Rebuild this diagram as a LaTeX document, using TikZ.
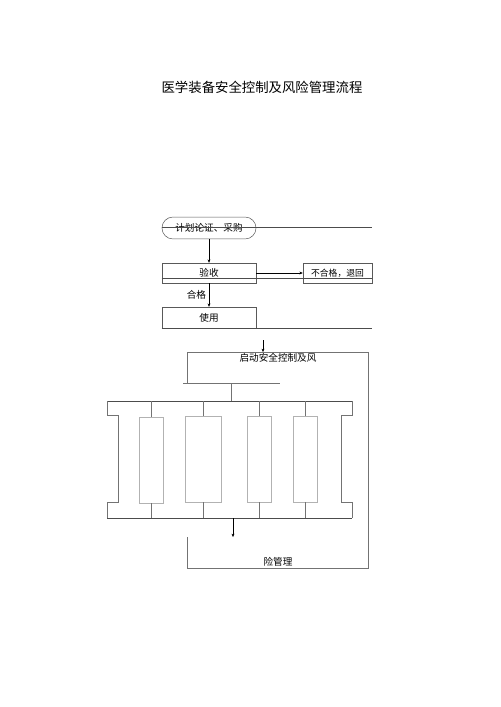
\documentclass[tikz,border=0pt]{standalone}
\usepackage{fontspec}
\setmainfont{Noto Sans CJK SC}
\usetikzlibrary{arrows.meta}

\begin{document}
\begin{tikzpicture}[x=0.042cm,y=-0.042cm,
  box/.style={rectangle,draw=black!65,line width=0.6pt,inner sep=0pt,minimum width=3.95cm,minimum height=0.84cm,font=\fontsize{11.5pt}{13pt}\selectfont},
  col/.style={rectangle,draw=black!30,line width=0.6pt,inner sep=0pt,minimum width=1.01cm,minimum height=3.61cm},
  bar/.style={draw=black!70,line width=0.9pt},
  thin/.style={draw=black!55,line width=0.7pt},
  txt/.style={font=\fontsize{11.5pt}{13pt}\selectfont},
  >={Stealth[length=4pt,width=3.5pt]}]
\useasboundingbox (0,0) rectangle (500,707);

\path (262,87) node[font=\fontsize{16pt}{19pt}\selectfont] (title) {医学装备安全控制及风险管理流程};

% first part
\path (209,228) node[box,rounded corners=0.46cm,minimum height=0.92cm] (plan) {计划论证、采购};
\path (209,273) node[box] (accept) {验收};
\path (337.5,273) node[box,minimum width=2.9cm,font=\fontsize{10.5pt}{12pt}\selectfont] (reject) {不合格，退回};
\path (209,317.5) node[box,minimum height=0.88cm] (use) {使用};

\coordinate (rend1) at (372,227);
\coordinate (rend2) at (372,278);
\coordinate (rend3) at (372,328);
\draw[bar] (plan.west |- rend1) -- (rend1);
\draw[bar] (accept.west |- rend2) -- (rend2);
\draw[bar] (use.west |- rend3) -- (rend3);

\draw[->] (plan) -- (accept);
\draw[->] (accept) -- (reject);
\draw[->] (accept) -- node[left,txt]{合格} (use);

% second part
\coordinate (in) at (263,340);
\coordinate (ftop) at (263,352);
\draw[->] (in) -- (ftop);
\draw[thin] (187,383) -- (187,352) -- (368,352) -- (368,568) -- (187,568) -- (187,537);
\path (278,358) node[txt] (risk1) {启动安全控制及风};
\path (278,562) node[txt] (risk2) {险管理};

\coordinate (fl) at (183,383);
\coordinate (fr) at (280,383);
\draw[thin] (fl) -- (fr);
\coordinate (tbus) at (231,401);
\coordinate (bbus) at (233,518);
\draw[thin] (231,383) -- (tbus);
\draw[bar] (107,401) -- (352,401);
\draw[bar] (107,518) -- (352,518);

\draw[thin] (107,401) -- (107,415) -- (118,415) -- (118,502) -- (107,502) -- (107,518);
\draw[thin] (352,401) -- (352,415) -- (341,415) -- (341,502) -- (352,502) -- (352,518);

\path (151,460) node[col] (c1) {};
\path (203,459) node[col,minimum width=1.51cm] (c2) {};
\path (259,459) node[col] (c3) {};
\path (305,459) node[col] (c4) {};
\foreach \c in {c1,c2,c3,c4}{
  \draw[thin] (\c.north) -- (\c.north |- tbus);
  \draw[thin] (\c.south) -- (\c.south |- bbus);
}

\coordinate (out) at (233,537);
\draw[->] (bbus) -- (out);
\end{tikzpicture}
\end{document}
